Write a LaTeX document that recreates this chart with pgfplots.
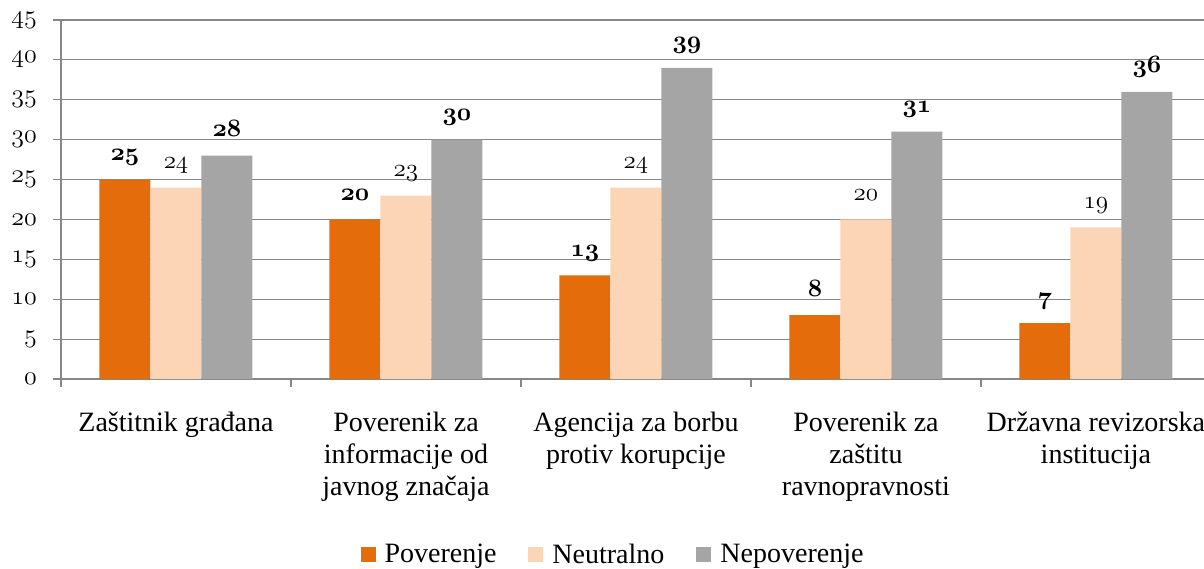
\RequirePackage{fix-cm}
\documentclass[border=0pt]{standalone}
\usepackage{fontspec}
\setmainfont{Liberation Serif}
\usepackage{pgfplots}
\pgfplotsset{compat=1.18}
\definecolor{cPov}{HTML}{E46C0A}
\definecolor{cNeu}{HTML}{FBD5B5}
\definecolor{cNep}{HTML}{A5A5A5}
\definecolor{cGrid}{HTML}{878787}
\newcommand{\osn}[1]{{\fontencoding{OML}\fontfamily{cmm}\fontseries{m}\fontshape{it}\selectfont #1}}
\newcommand{\osnb}[1]{{\fontencoding{OML}\fontfamily{cmm}\fontseries{b}\fontshape{it}\selectfont #1}}
\begin{document}
\begin{tikzpicture}[x=1pt,y=1pt]
\path[use as bounding box] (0,0) rectangle (602,284);
\begin{axis}[
  at={(30.5pt,94.5pt)}, anchor=south west,
  scale only axis, width=571.5pt, height=179.5pt,
  xmin=-0.5, xmax=4.47, ymin=0, ymax=45,
  ybar=0pt, bar width=25.5pt,
  axis lines*=left,
  axis line style={cGrid, line width=0.6pt},
  ymajorgrids, grid style={cGrid, line width=0.6pt},
  tick style={cGrid, line width=0.6pt},
  major tick length=4pt, tick align=outside,
  ytick={0,5,...,45},
  yticklabels={\osn{0},\osn{5},\osn{10},\osn{15},\osn{20},\osn{25},\osn{30},\osn{35},\osn{40},\osn{45}},
  yticklabel style={font=\fontsize{13}{15}\selectfont, anchor=east, xshift=-4.5pt},
  xtick={-0.5,0.5,1.5,2.5,3.5},
  xticklabels={Zaštitnik građana, Poverenik za\\informacije od\\javnog značaja, Agencija za borbu\\protiv korupcije, Poverenik za\\zaštitu\\ravnopravnosti, Državna revizorska\\institucija},
  xticklabel style={xshift=57.5pt, anchor=north, align=center, font=\fontsize{14}{16}\selectfont, yshift=-9pt},
  point meta=explicit symbolic,
  every node near coord/.append style={anchor=base, yshift=9.5pt, font=\fontsize{12.5}{14}\selectfont, text=black},
  legend columns=3,
  legend style={draw=none, at={(0.4838,-0.49)}, anchor=center, font=\fontsize{14}{16}\selectfont,
    /tikz/every even column/.append style={column sep=14pt}},
  legend image code/.code={\fill[#1] (0pt,-3.75pt) rectangle (7.5pt,3.75pt); \path (10pt,0pt);},
]
\addplot[fill=cPov, draw=none, nodes near coords={\osnb{\pgfplotspointmeta}}] coordinates {(0,25)[25] (1,20)[20] (2,13)[13] (3,8)[8] (4,7)[7]};
\addplot[fill=cNeu, draw=none, nodes near coords={\osn{\pgfplotspointmeta}}] coordinates {(0,24)[24] (1,23)[23] (2,24)[24] (3,20)[20] (4,19)[19]};
\addplot[fill=cNep, draw=none, nodes near coords={\osnb{\pgfplotspointmeta}}] coordinates {(0,28)[28] (1,30)[30] (2,39)[39] (3,31)[31] (4,36)[36]};
\legend{Poverenje, Neutralno, Nepoverenje}
\end{axis}
\end{tikzpicture}
\end{document}
